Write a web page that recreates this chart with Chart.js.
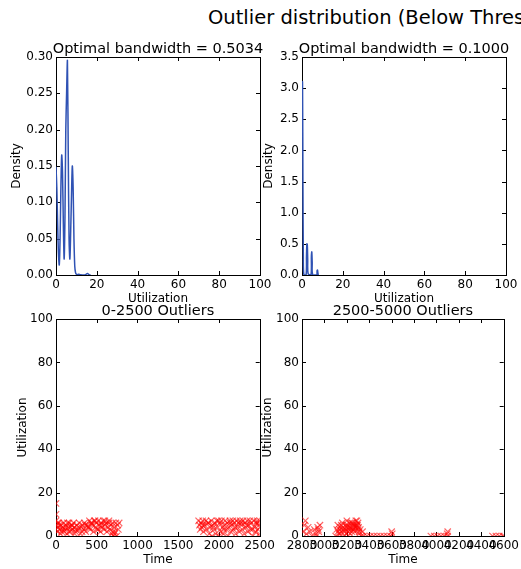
<!DOCTYPE html>
<html>
<head>
<meta charset="utf-8">
<script src="https://cdn.jsdelivr.net/npm/chart.js@4.4.1/dist/chart.umd.min.js"></script>
<style>
  html, body { margin: 0; padding: 0; background: #fff; width: 521px; height: 569px; overflow: hidden; position: relative; }
  canvas { position: absolute; }
  #suptitle { position: absolute; left: 208px; top: 6px; font: 19.5px 'DejaVu Sans', sans-serif; line-height: 24px; white-space: nowrap; color: #000; }
</style>
</head>
<body>
<div id="suptitle">Outlier distribution (Below Threshold)</div>
<canvas id="kdeLow" width="278" height="276" style="left:0px; top:30px"></canvas>
<canvas id="kdeHigh" width="264" height="276" style="left:258px; top:30px"></canvas>
<canvas id="scatterLow" width="278" height="277" style="left:0px; top:290px"></canvas>
<canvas id="scatterHigh" width="264" height="277" style="left:258px; top:290px"></canvas>
<script>
// density curves (utilization -> density)
const kdeLowX = [0, 0.4, 0.8, 1.2, 1.6, 2.0, 2.4, 2.8, 3.2, 3.6, 4.0, 4.4, 4.8, 5.2, 5.6, 6.0, 6.4, 6.8, 7.2, 7.6, 8.0, 8.4, 8.8, 9.2, 9.6, 10.0, 10.5, 11.0, 12.0, 13.0, 14.0, 14.5, 15.0, 15.5, 16.0, 16.5, 17.0];
const kdeLowY = [0.149, 0.12, 0.07, 0.03, 0.014, 0.05, 0.12, 0.165, 0.14, 0.07, 0.022, 0.08, 0.2, 0.25, 0.295, 0.17, 0.05, 0.022, 0.06, 0.11, 0.15, 0.12, 0.05, 0.012, 0.003, 0.001, 0.0005, 0.001, 0.0003, 0.0, 0.0, 0.0003, 0.0015, 0.002, 0.0008, 0.0001, 0.0];
const kdeHighX = [0, 0.25, 0.45, 0.65, 0.9, 2.0, 2.2, 2.4, 2.6, 2.8, 3.0, 4.4, 4.6, 4.8, 5.0, 5.2, 7.2, 7.4, 7.6, 7.8, 8.0];
const kdeHighY = [3.0, 3.1, 1.5, 0.3, 0.01, 0, 0.3, 0.5, 0.49, 0.25, 0.02, 0, 0.3, 0.37, 0.2, 0.01, 0, 0.07, 0.08, 0.03, 0];

// outliers [time, utilization]
const outliersEarly = [
  [0,15],[0,10],[0,7],[0,3],[8,5],[15,2],[25,4],[35,6],[45,3],[60,5],[70,2],[85,4],[95,6],[110,3],[120,5],
  [135,1],[150,4],[160,6],[175,2],[190,5],[200,3],[215,6],[225,4],[240,2],[255,5],[270,3],[285,6],[300,1],
  [310,4],[325,5],[340,3],[350,6],[365,2],[380,5],[395,4],[410,7],[420,3],[430,6],[445,5],[460,2],[470,7],
  [485,4],[495,6],[505,3],[520,7],[530,5],[545,2],[555,6],[565,4],[580,7],[590,3],[600,5],[615,6],[625,2],
  [640,4],[650,7],[660,3],[675,5],[685,1],[695,6],[705,0],[715,4],[725,2],[735,6],[745,0],[755,5],[765,3],
  [775,6],[720,1],[700,2],[650,6],[600,7],[560,5],[520,3],[480,7],[440,6],[400,4],[360,5],[320,2],[280,4],
  [240,3],[200,5],[160,2],[120,4],[80,3],[40,5],[20,6],[55,1],[100,2],[140,6],[180,4],[230,1]
];
const outliersLate = [
  [1750,7],[1760,5],[1770,3],[1780,6],[1790,4],[1800,7],[1810,2],[1825,5],[1840,7],[1850,3],[1865,6],
  [1880,1],[1890,4],[1905,7],[1915,0],[1925,5],[1940,3],[1950,6],[1960,1],[1975,7],[1985,4],[2000,0],
  [2010,6],[2020,2],[2030,7],[2045,4],[2055,1],[2065,5],[2075,7],[2090,3],[2100,6],[2110,0],[2120,4],
  [2135,7],[2145,2],[2155,5],[2170,7],[2180,3],[2190,6],[2205,1],[2215,7],[2225,4],[2240,6],[2250,2],
  [2260,7],[2275,5],[2285,3],[2295,7],[2310,1],[2320,6],[2330,4],[2345,7],[2355,2],[2365,5],[2380,7],
  [2390,3],[2400,6],[2415,0],[2425,7],[2435,4],[2450,2],[2460,6],[2470,7],[2480,3],[2490,5],[2495,1],
  [2500,7],[2500,4],[2500,0],[1800,5],[1870,6],[1930,4],[1995,7],[2060,3],[2140,6],[2200,4],[2270,6],
  [2340,5],[2410,3],[2475,6]
];
const outliersSecond = [
  [2810,2],[2820,5],[2830,7],[2840,1],[2855,4],[2870,2],[2890,0],[2910,3],[2925,1],[2940,4],[2950,2],
  [2960,5],[2945,3],[2930,0],
  [3100,0],[3110,3],[3120,5],[3130,1],[3140,4],[3150,2],[3160,6],[3170,3],[3180,0],[3190,5],[3200,7],
  [3210,2],[3220,4],[3230,1],[3240,6],[3250,3],[3260,5],[3270,2],[3280,7],[3290,4],[3300,6],[3310,1],
  [3320,3],[3330,0],[3340,2],[3150,5],[3190,3],[3230,4],[3270,5],[3300,3],[3120,2],[3200,4],[3250,6],
  [3285,5],[3135,3],[3165,4],[3205,5],[3215,3],[3245,2],[3255,4],[3275,4],[3290,7],[3295,5],[3305,4],
  [3180,2],[3225,6],[3260,3],[3310,2],[3140,1],[3195,1],
  [3350,0],[3380,0],[3410,0],[3440,0],[3470,0],[3500,0],[3530,0],[3560,0],[3590,0],[3600,2],[3605,1],
  [3950,0],[3980,0],[4010,0],[4040,0],[4070,0],[4100,2],[4095,1],[4100,0],
  [4500,0],[4530,0],[4560,0],[4590,0],[4600,0]
];

const FONT = 'DejaVu Sans';
const tickFont = { family: FONT, size: 12 };
const labelFont = { family: FONT, size: 12 };

// box round the axes, inward ticks on all four sides, title above the box
const frame = {
  id: 'frame',
  beforeDatasetsDraw(chart, args, opts) {
    const { ctx, chartArea: a, scales: { x, y } } = chart;
    ctx.save();
    ctx.strokeStyle = '#000';
    ctx.lineWidth = 1;
    const line = (x1, y1, x2, y2) => { ctx.beginPath(); ctx.moveTo(x1, y1); ctx.lineTo(x2, y2); ctx.stroke(); };
    x.ticks.forEach(t => {
      const px = Math.round(x.getPixelForValue(t.value)) + 0.5;
      line(px, a.bottom, px, a.bottom - 4);
      line(px, a.top, px, a.top + 4);
    });
    y.ticks.forEach(t => {
      const py = Math.round(y.getPixelForValue(t.value)) + 0.5;
      line(a.left, py, a.left + 4, py);
      line(a.right, py, a.right - 4, py);
    });
    ctx.strokeRect(Math.round(a.left) + 0.5, Math.round(a.top) + 0.5, Math.round(a.width), Math.round(a.height));
    ctx.fillStyle = '#000';
    ctx.font = '14.5px "DejaVu Sans"';
    ctx.textAlign = 'center';
    ctx.textBaseline = 'bottom';
    ctx.fillText(opts.text, (a.left + a.right) / 2, a.top - 1);
    ctx.restore();
  }
};

function makeChart(id, cfg) {
  return new Chart(document.getElementById(id), {
    type: 'scatter',
    data: { datasets: cfg.datasets },
    options: {
      responsive: false,
      animation: false,
      layout: { padding: cfg.padding },
      plugins: { legend: { display: false }, tooltip: { enabled: false }, frame: { text: cfg.title } },
      scales: {
        x: {
          type: 'linear', min: cfg.xMin, max: cfg.xMax,
          grid: { display: false, drawTicks: false }, border: { display: false },
          ticks: { stepSize: cfg.xStep, autoSkip: false, maxRotation: 0, color: '#000', font: tickFont, padding: 3,
                   callback: v => String(v) },
          title: { display: true, text: cfg.xLabel, color: '#000', font: labelFont, padding: { top: 0, bottom: 0 } },
          afterFit: s => { s.height = cfg.xHeight; }
        },
        y: {
          type: 'linear', min: cfg.yMin, max: cfg.yMax,
          grid: { display: false, drawTicks: false }, border: { display: false },
          ticks: { stepSize: cfg.yStep, color: '#000', font: tickFont, padding: 3,
                   callback: v => cfg.yDigits ? v.toFixed(cfg.yDigits) : String(v) },
          title: { display: true, text: cfg.yLabel, color: '#000', font: labelFont, padding: { top: cfg.yTitlePad, bottom: 0 } },
          afterFit: s => { s.width = cfg.yWidth; }
        }
      }
    },
    plugins: [frame]
  });
}

const kdeLine = (xs, ys) => ({
  data: xs.map((v, i) => ({ x: v, y: ys[i] })),
  showLine: true, pointRadius: 0, borderColor: '#2f52b4', borderWidth: 1.5, tension: 0.3
});
const outlierMarks = (pts) => ({
  data: pts.map(p => ({ x: p[0], y: p[1] })),
  pointStyle: 'crossRot', pointRadius: 4.5, borderColor: 'rgba(255,0,0,0.6)', borderWidth: 1.2, showLine: false
});

makeChart('kdeLow', {
  title: 'Optimal bandwidth = 0.5034', datasets: [kdeLine(kdeLowX, kdeLowY)],
  padding: { left: 0, right: 18, top: 27, bottom: 0 },
  xMin: 0, xMax: 100, xStep: 20, xLabel: 'Utilization', xHeight: 31,
  yMin: 0, yMax: 0.30, yStep: 0.05, yDigits: 2, yLabel: 'Density', yWidth: 56, yTitlePad: 10
});
makeChart('kdeHigh', {
  title: 'Optimal bandwidth = 0.1000', datasets: [kdeLine(kdeHighX, kdeHighY)],
  padding: { left: 0, right: 16, top: 27, bottom: 0 },
  xMin: 0, xMax: 100, xStep: 20, xLabel: 'Utilization', xHeight: 31,
  yMin: 0, yMax: 3.5, yStep: 0.5, yDigits: 1, yLabel: 'Density', yWidth: 44, yTitlePad: 4
});
makeChart('scatterLow', {
  title: '0-2500 Outliers', datasets: [outlierMarks(outliersEarly), outlierMarks(outliersLate)],
  padding: { left: 0, right: 18, top: 29, bottom: 0 },
  xMin: 0, xMax: 2500, xStep: 500, xLabel: 'Time', xHeight: 31,
  yMin: 0, yMax: 100, yStep: 20, yDigits: 0, yLabel: 'Utilization', yWidth: 56, yTitlePad: 16
});
makeChart('scatterHigh', {
  title: '2500-5000 Outliers', datasets: [outlierMarks(outliersSecond)],
  padding: { left: 0, right: 16, top: 29, bottom: 0 },
  xMin: 2800, xMax: 4600, xStep: 200, xLabel: 'Time', xHeight: 31,
  yMin: 0, yMax: 100, yStep: 20, yDigits: 0, yLabel: 'Utilization', yWidth: 44, yTitlePad: 3
});
</script>
</body>
</html>
